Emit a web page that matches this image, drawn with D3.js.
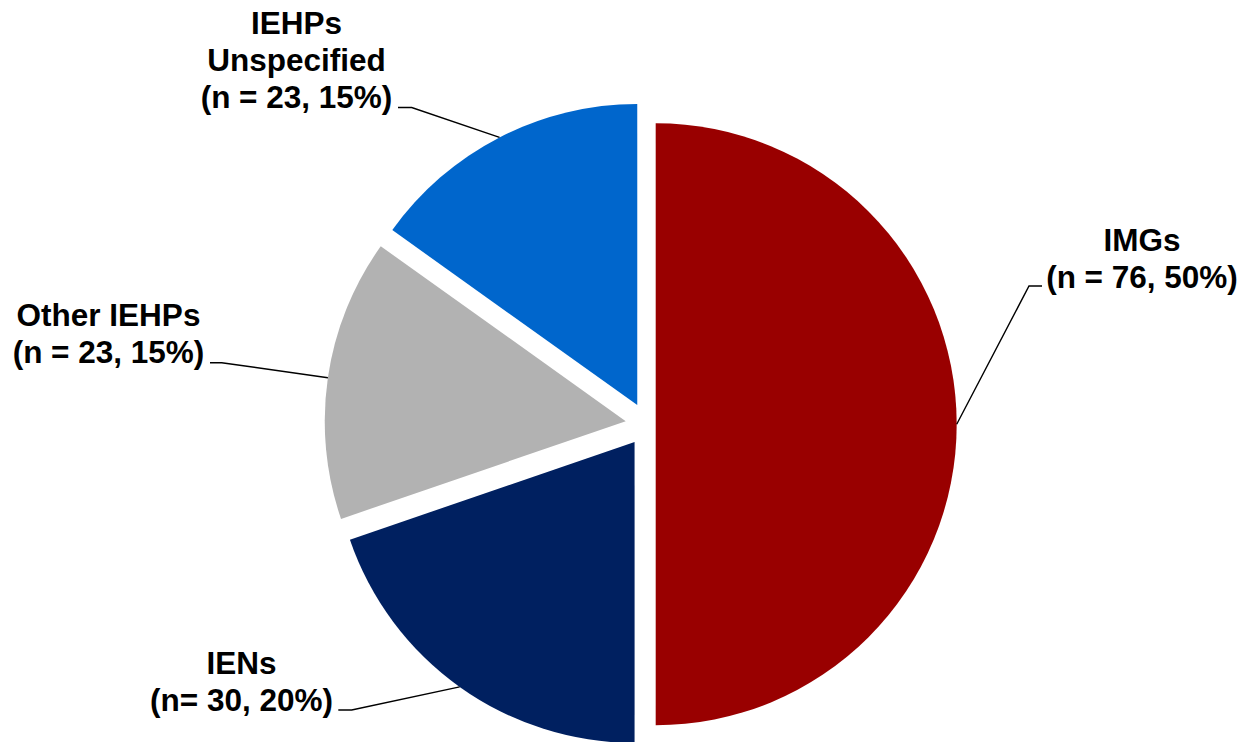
<!DOCTYPE html>
<html>
<head>
<meta charset="utf-8">
<script src="https://cdn.jsdelivr.net/npm/d3@7/dist/d3.min.js"></script>
<style>
  html, body { margin: 0; padding: 0; background: #ffffff; }
  svg { display: block; }
  .lbl { font-family: "Liberation Sans", Arial, Helvetica, sans-serif; font-weight: bold; font-size: 31.5px; fill: #000; }
</style>
</head>
<body>
<svg id="chart" width="1243" height="742"></svg>
<script>
// Categories and counts, clockwise from 12 o'clock
const categories = ["IMGs", "IENs", "Other IEHPs", "IEHPs Unspecified"];
const counts = [76, 30, 23, 23];
// Data label lines for each slice
const labelLines = [
  ["IMGs", "(n = 76, 50%)"],
  ["IENs", "(n= 30, 20%)"],
  ["Other IEHPs", "(n = 23, 15%)"],
  ["IEHPs", "Unspecified", "(n = 23, 15%)"]
];

const colors = ["#990000", "#002060", "#B2B2B2", "#0066CC"];
const explode = [8.5, 21.7, 21.7, 21.7];

// Label layout: text centre, first baseline, leader elbow and tip
const labelLayout = [
  { x: 1142, y: 250.7, elbow: [1029, 286], tip: [1042, 286] },
  { x: 241.5, y: 674, elbow: [351.7, 710], tip: [338.3, 710] },
  { x: 108.5, y: 326, elbow: [221.7, 362.7], tip: [210, 362.7] },
  { x: 296.5, y: 34, elbow: [411.7, 107.5], tip: [398, 107.5] }
];
const lineHeight = 36.8;

const svg = d3.select("#chart");
const cx = 647.2, cy = 424.3, radius = 301;

const pie = d3.pie().sort(null).value(d => d)(counts);
const arc = d3.arc().innerRadius(0).outerRadius(radius);
const edge = d3.arc().innerRadius(radius).outerRadius(radius);

function offset(d, i) {
  const a = (d.startAngle + d.endAngle) / 2;
  return [Math.sin(a) * explode[i], -Math.cos(a) * explode[i]];
}

const g = svg.append("g").attr("transform", `translate(${cx},${cy})`);

g.selectAll("path.slice")
  .data(pie)
  .join("path")
  .attr("class", "slice")
  .attr("d", arc)
  .attr("fill", (d, i) => colors[i])
  .attr("transform", (d, i) => {
    const [dx, dy] = offset(d, i);
    return `translate(${dx},${dy})`;
  });

// Leader lines from each slice's outer edge to its label
const line = d3.line();
svg.selectAll("path.leader")
  .data(pie)
  .join("path")
  .attr("class", "leader")
  .attr("fill", "none")
  .attr("stroke", "#000")
  .attr("stroke-width", 1.4)
  .attr("d", (d, i) => {
    const [dx, dy] = offset(d, i);
    const [ex, ey] = edge.centroid(d);
    const L = labelLayout[i];
    return line([[cx + ex + dx, cy + ey + dy], L.elbow, L.tip]);
  });

// Label text
pie.forEach((d, i) => {
  const L = labelLayout[i];
  const t = svg.append("text")
    .attr("class", "lbl")
    .attr("text-anchor", "middle");
  labelLines[i].forEach((s, k) => {
    t.append("tspan")
      .attr("x", L.x)
      .attr("y", L.y + k * lineHeight)
      .text(s);
  });
});
</script>
</body>
</html>
